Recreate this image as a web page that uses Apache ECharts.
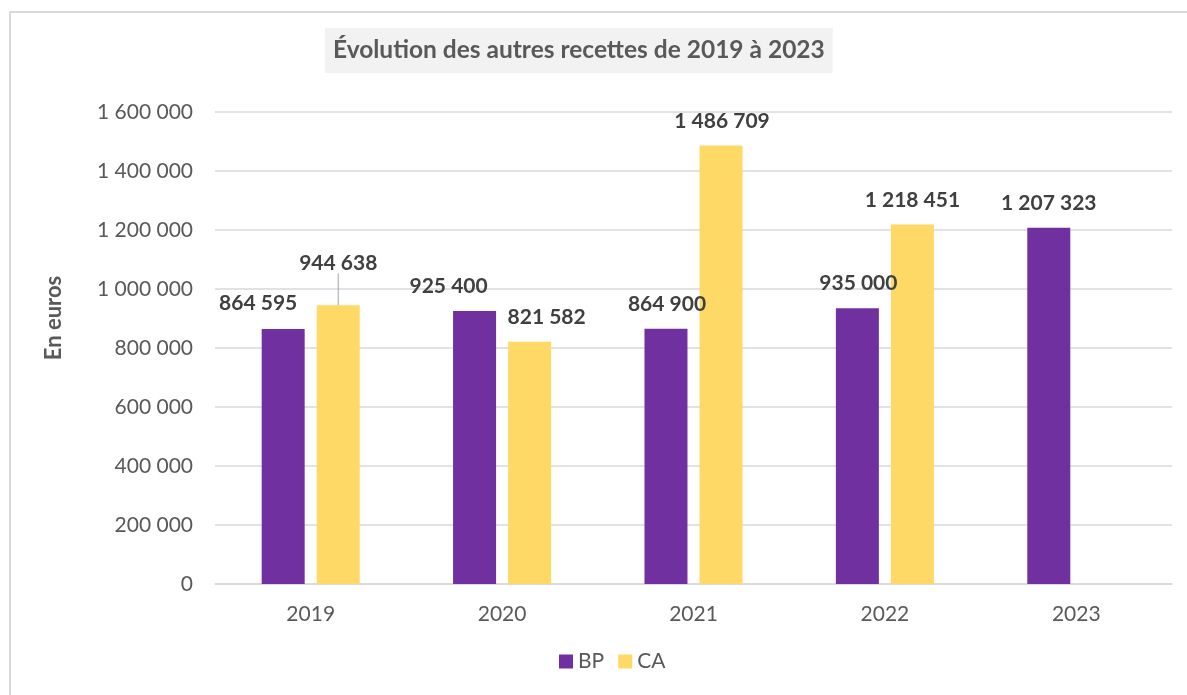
<!doctype html>
<meta charset="utf-8">
<style>
  html, body { margin: 0; padding: 0; width: 100%; height: 100%; background: #fff; }
  #chart { width: 100%; height: 100%; }
</style>
<script src="https://cdn.jsdelivr.net/npm/echarts@6/dist/echarts.min.js"></script>

<div id="chart"></div>

<script>
  // données
  const years = ['2019', '2020', '2021', '2022', '2023'];
  const bpValues = [864595, 925400, 864900, 935000, 1207323];
  const caValues = [944638, 821582, 1486709, 1218451, null];
  const yTicks = [0, 200000, 400000, 600000, 800000, 1000000, 1200000, 1400000, 1600000];

  // décalage manuel des étiquettes (comme dans le fichier Excel)
  const bpShift = [[-25, -1], [-26, 0], [1, 0], [1, 0], [0, 0]];
  const caShift = [[0, -18], [17, 0], [1, 0], [0, 0], [0, 0]];

  const FONT = 'Lato';
  const fmt = v => String(v).replace(/\B(?=(\d{3})+(?!\d))/g, ' ');

  let chart = echarts.init(document.getElementById('chart'));

  const labelStyle = {
    show: true,
    position: 'top',
    distance: 14,
    fontFamily: FONT,
    fontWeight: 'bold',
    fontSize: 21,
    color: '#404040',
    formatter: p => fmt(p.value)
  };

  chart.setOption({
    animation: false,
    textStyle: { fontFamily: FONT },
    graphic: [{
      type: 'rect',
      shape: { x: 10, y: 12, width: 1200, height: 720 },
      style: { fill: 'none', stroke: '#d9d9d9', lineWidth: 2 },
      silent: true
    }],
    title: {
      text: 'Évolution des autres recettes de 2019 à 2023',
      left: 325,
      top: 28,
      padding: [10, 8, 10, 8],
      backgroundColor: '#f2f2f2',
      textStyle: {
        fontFamily: FONT,
        fontWeight: 'bold',
        fontSize: 24.5,
        color: '#595959'
      }
    },
    legend: {
      bottom: 18,
      left: 554,
      itemWidth: 14,
      itemHeight: 14,
      itemGap: 14,
      icon: 'rect',
      textStyle: { fontFamily: FONT, fontSize: 21, color: '#595959' },
      data: ['BP', 'CA']
    },
    grid: { left: 215, right: 15, top: 112, bottom: 111 },
    xAxis: {
      type: 'category',
      data: years,
      axisLine: { lineStyle: { color: '#d9d9d9', width: 1.5 } },
      axisTick: { show: false },
      axisLabel: { fontFamily: FONT, fontSize: 21, color: '#595959', margin: 20 }
    },
    yAxis: {
      type: 'value',
      min: yTicks[0],
      max: yTicks[yTicks.length - 1],
      interval: yTicks[1] - yTicks[0],
      name: 'En euros',
      nameLocation: 'middle',
      nameGap: 150,
      nameTextStyle: {
        fontFamily: FONT, fontWeight: 'bold', fontSize: 22, color: '#595959',
        padding: [0, 0, 0, 60]
      },
      axisLine: { show: false },
      axisTick: { show: false },
      splitLine: { lineStyle: { color: '#d9d9d9', width: 1.5 } },
      axisLabel: { fontFamily: FONT, fontSize: 21, color: '#595959', margin: 22, formatter: v => fmt(v) }
    },
    series: [
      {
        name: 'BP',
        type: 'bar',
        data: bpValues,
        barWidth: 43,
        barGap: '28%',
        itemStyle: { color: '#7030A0' },
        label: labelStyle,
        labelLayout: p => ({ dx: bpShift[p.dataIndex][0], dy: bpShift[p.dataIndex][1] })
      },
      {
        name: 'CA',
        type: 'bar',
        data: caValues.map((v, i) => i === 0 ? { value: v, labelLine: { show: true } } : v),
        barWidth: 43,
        itemStyle: { color: '#FFD966' },
        label: labelStyle,
        labelLine: { show: false, lineStyle: { color: '#a6a6a6', width: 1 } },
        labelLayout: p => ({ dx: caShift[p.dataIndex][0], dy: caShift[p.dataIndex][1] })
      }
    ]
  });
</script>
